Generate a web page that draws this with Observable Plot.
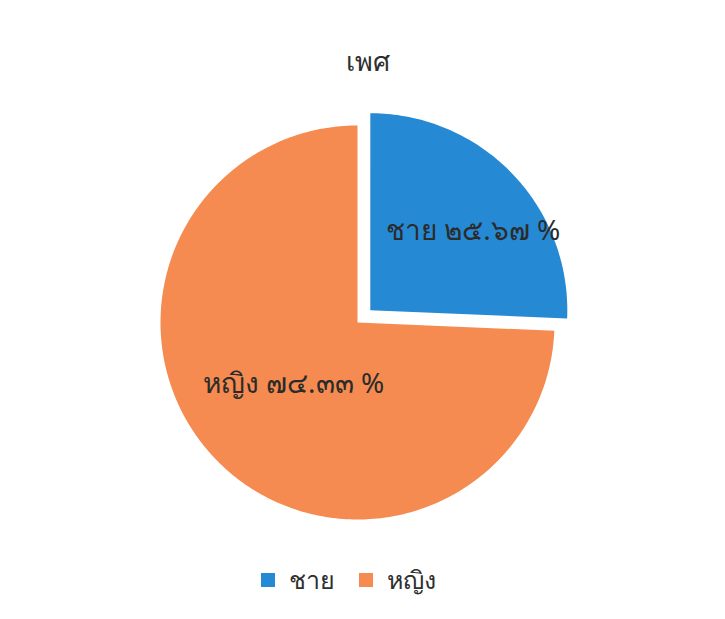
<!DOCTYPE html>
<html><head><meta charset="utf-8">
<script src="https://cdn.jsdelivr.net/npm/d3@7"></script>
<script src="https://cdn.jsdelivr.net/npm/@observablehq/plot@0.6"></script>
<style>
body{margin:0;background:#fff;font-family:"Noto Sans","DejaVu Sans",sans-serif;}
#wrap{width:725px;height:619px;position:relative;overflow:hidden;}
#title{height:100px;text-align:center;font-size:27px;color:#2f2f2f;line-height:27px;box-sizing:border-box;padding-top:47px;padding-left:10px;}
#legend{height:79px;display:flex;justify-content:center;align-items:center;font-size:25px;color:#2f2f2f;box-sizing:border-box;padding-right:28px;padding-top:0px;}
.item{display:flex;align-items:center;margin:0 12px;}
.sw{width:14px;height:14px;margin-right:14px;}
</style></head><body><div id="wrap"><div id="title"></div><div id="chart"></div><div id="legend"></div></div>
<script>
const title = "เพศ";
const categories = ["ชาย", "หญิง"];
const values = [25.67, 74.33];
const labels = ["ชาย ๒๕.๖๗ %", "หญิง ๗๔.๓๓ %"];
const colors = ["#2689d4", "#f58b50"];
const exploded = [true, false];

document.getElementById("title").textContent = title;

const total = d3.sum(values);
const pts = [];
const lab = [];
let a = 0;
categories.forEach((c, i) => {
  const a0 = a, a1 = a + values[i] / total * 2 * Math.PI;
  a = a1;
  const mid = (a0 + a1) / 2;
  const off = exploded[i] ? 0.09 : 0;
  const cx = off * Math.sin(mid), cy = off * Math.cos(mid);
  pts.push({cat: c, x: cx, y: cy});
  const n = Math.max(2, Math.ceil((a1 - a0) / (Math.PI / 180)));
  for (let k = 0; k <= n; k++) {
    const t = a0 + (a1 - a0) * k / n;
    pts.push({cat: c, x: cx + Math.sin(t), y: cy + Math.cos(t)});
  }
  pts.push({cat: c, x: cx, y: cy});
  const lr = exploded[i] ? 0.64 : 0.45;
  lab.push({
    cat: c, text: labels[i],
    x: cx + lr * Math.sin(mid) + (exploded[i] ? 0.06 : 0),
    y: cy + lr * Math.cos(mid) - (exploded[i] ? 0.04 : 0)
  });
});

const R = 197, W = 725, H = 440, CX = 357, CY = 222;
const chart = Plot.plot({
  width: W, height: H,
  margin: 0,
  x: {domain: [-CX / R, (W - CX) / R], range: [0, W], axis: null},
  y: {domain: [(CY - H) / R, CY / R], range: [H, 0], axis: null},
  color: {domain: categories, range: colors},
  style: {fontFamily: '"Noto Sans","DejaVu Sans",sans-serif', background: "#fff"},
  marks: [
    Plot.line(pts, {x: "x", y: "y", z: "cat", fill: "cat", stroke: null, curve: "linear"}),
    Plot.text(lab, {x: "x", y: "y", text: "text", fontSize: 28, fill: "#2b2b2b"})
  ]
});
document.getElementById("chart").appendChild(chart);

const leg = document.getElementById("legend");
categories.forEach((c, i) => {
  const it = document.createElement("div"); it.className = "item";
  const sw = document.createElement("div"); sw.className = "sw"; sw.style.background = colors[i];
  const tx = document.createElement("span"); tx.textContent = c;
  it.appendChild(sw); it.appendChild(tx); leg.appendChild(it);
});
</script></body></html>
